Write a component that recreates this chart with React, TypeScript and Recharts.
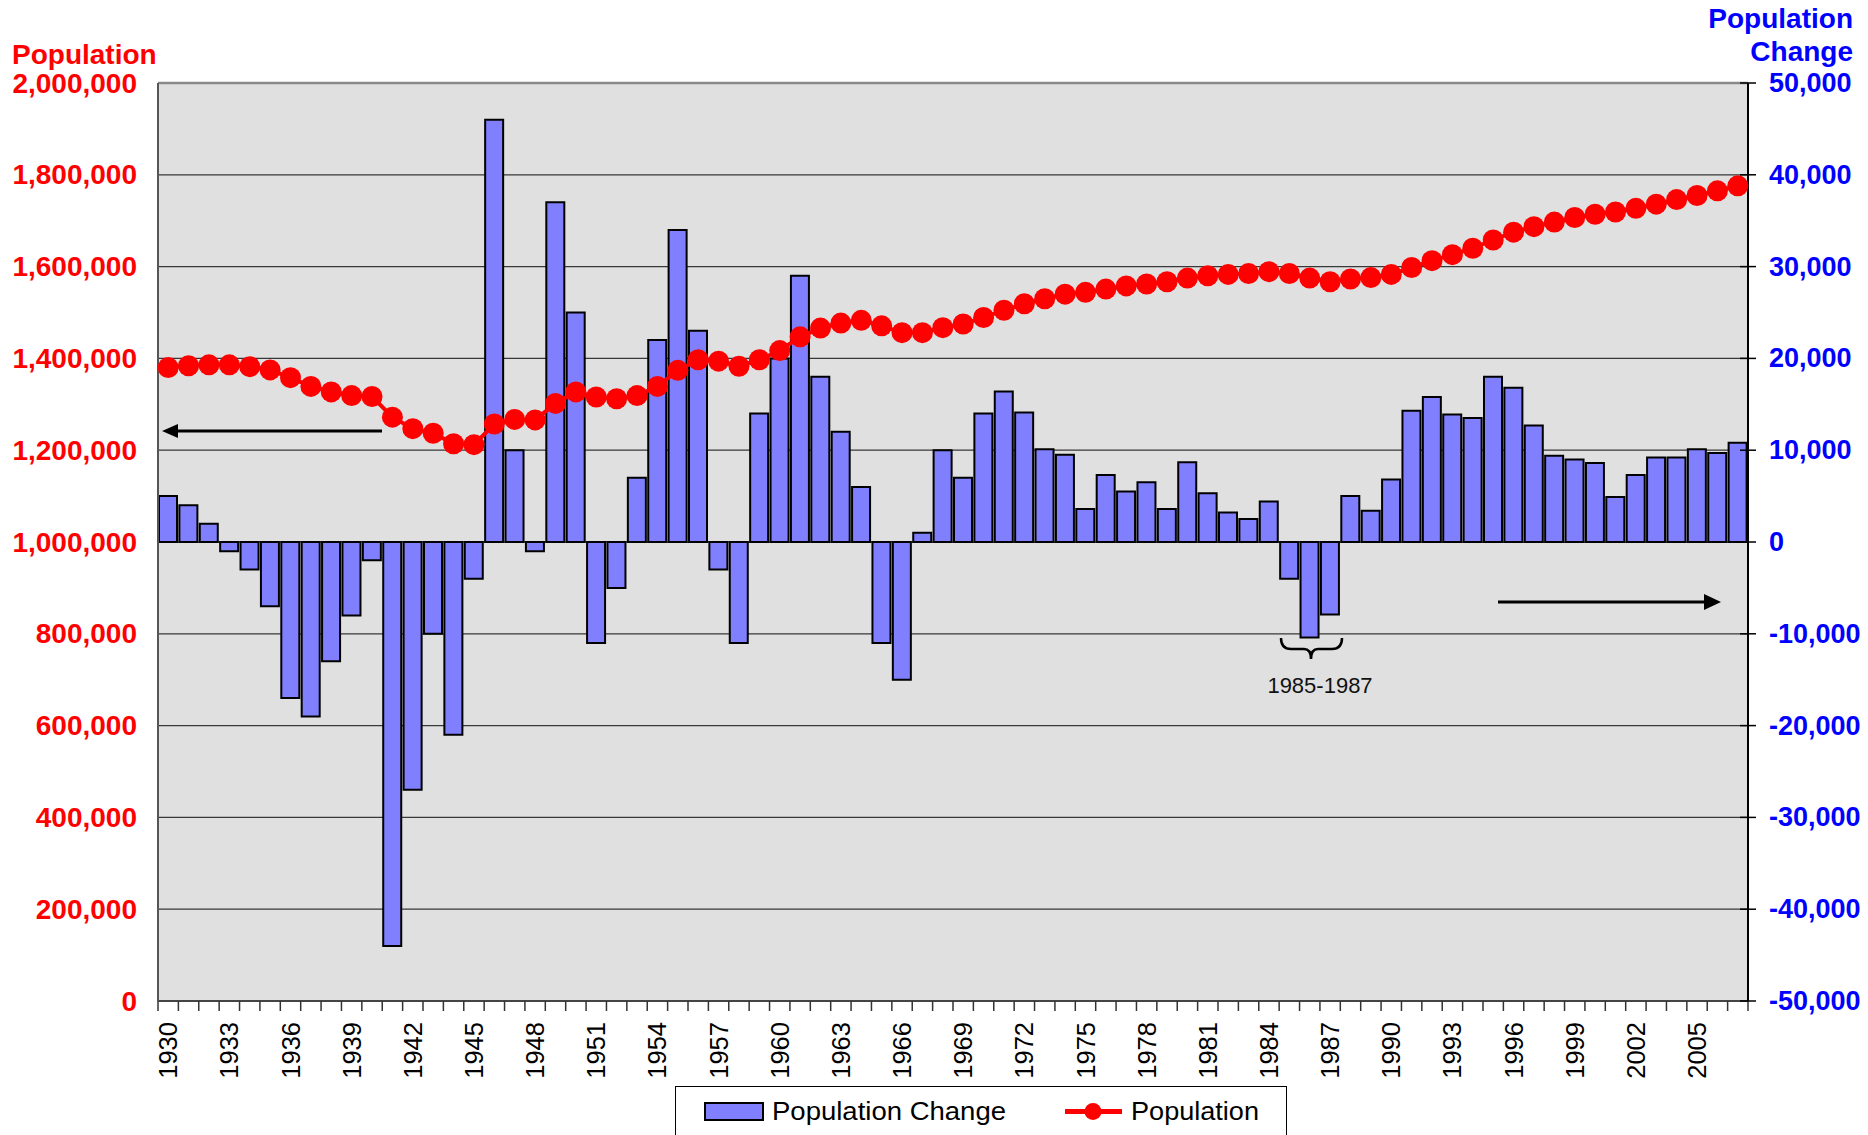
import { Bar, CartesianGrid, ComposedChart, Line, ReferenceLine, XAxis, YAxis } from 'recharts';

const years = [
  '1930', '1931', '1932', '1933', '1934', '1935', '1936', '1937', '1938', '1939',
  '1940', '1941', '1942', '1943', '1944', '1945', '1946', '1947', '1948', '1949',
  '1950', '1951', '1952', '1953', '1954', '1955', '1956', '1957', '1958', '1959',
  '1960', '1961', '1962', '1963', '1964', '1965', '1966', '1967', '1968', '1969',
  '1970', '1971', '1972', '1973', '1974', '1975', '1976', '1977', '1978', '1979',
  '1980', '1981', '1982', '1983', '1984', '1985', '1986', '1987', '1988', '1989',
  '1990', '1991', '1992', '1993', '1994', '1995', '1996', '1997', '1998', '1999',
  '2000', '2001', '2002', '2003', '2004', '2005', '2006', '2007',
];

// yearly change
const populationChange = [
  5000, 4000, 2000, -1000, -3000, -7000, -17000, -19000, -13000, -8000,
  -2000, -44000, -27000, -10000, -21000, -4000, 46000, 10000, -1000, 37000,
  25000, -11000, -5000, 7000, 22000, 34000, 23000, -3000, -11000, 14000,
  20000, 29000, 18000, 12000, 6000, -11000, -15000, 1000, 10000, 7000,
  14000, 16400, 14100, 10100, 9500, 3600, 7300, 5500, 6500, 3600,
  8700, 5300, 3200, 2500, 4400, -4000, -10400, -7900, 5000, 3400,
  6800, 14300, 15800, 13900, 13500, 18000, 16800, 12700, 9400, 9000,
  8600, 4900, 7300, 9200, 9200, 10100, 9700, 10800,
];

// total population
const population = [
  1380000, 1384000, 1386000, 1386000, 1382000, 1375000, 1358000, 1339000, 1327000, 1319000,
  1317000, 1272000, 1247000, 1237000, 1214000, 1212000, 1257000, 1267000, 1266000, 1302000,
  1327000, 1316000, 1312000, 1319000, 1339000, 1374000, 1397000, 1394000, 1383000, 1397000,
  1417000, 1447000, 1466000, 1477000, 1483000, 1471000, 1456000, 1456000, 1467000, 1475000,
  1489000, 1505000, 1519000, 1530000, 1540000, 1544000, 1551000, 1558000, 1562000, 1567000,
  1575000, 1580000, 1583000, 1585000, 1589000, 1585000, 1575000, 1567000, 1573000, 1576000,
  1583000, 1598000, 1613000, 1626000, 1640000, 1658000, 1675000, 1687000, 1697000, 1707000,
  1714000, 1719000, 1727000, 1736000, 1746000, 1755000, 1765000, 1776000,
];

const leftTicks = [0, 200000, 400000, 600000, 800000, 1000000, 1200000, 1400000, 1600000, 1800000, 2000000];
const rightTicks = [-50000, -40000, -30000, -20000, -10000, 0, 10000, 20000, 30000, 40000, 50000];

const data = years.map((year, i) => ({ year, change: populationChange[i], population: population[i] }));

const W = 1868;
const H = 1135;
const LEFT_W = 158;
const RIGHT_W = 120;
const TOP = 83;
const X_H = 134;
const PLOT_L = LEFT_W;
const PLOT_R = W - RIGHT_W;
const PLOT_B = H - X_H;
const BAND = (PLOT_R - PLOT_L) / years.length;

const FONT = '"Liberation Sans", Arial, sans-serif';
const fmt = (v: number) => v.toLocaleString('en-US');

function XTick(props: any) {
  const { x, payload } = props;
  const i = props.index ?? payload.index;
  const half = BAND / 2;
  const ty = PLOT_B + 21;
  return (
    <g>
      <line x1={x - half} x2={x - half} y1={PLOT_B} y2={PLOT_B + 10} stroke="#333" strokeWidth={1.5} />
      {i === years.length - 1 && (
        <line x1={x + half} x2={x + half} y1={PLOT_B} y2={PLOT_B + 10} stroke="#333" strokeWidth={1.5} />
      )}
      {i % 3 === 0 && (
        <text
          x={x}
          y={ty}
          transform={`rotate(-90, ${x}, ${ty})`}
          textAnchor="end"
          dominantBaseline="central"
          fontSize={25.5}
          fontFamily={FONT}
          fill="#000"
        >
          {payload.value}
        </text>
      )}
    </g>
  );
}

function LeftTick({ y, payload }: any) {
  return (
    <text x={137} y={y} textAnchor="end" dominantBaseline="central" fill="#ff0000" fontWeight="bold" fontSize={28} fontFamily={FONT}>
      {fmt(payload.value)}
    </text>
  );
}

function RightTick({ y, payload }: any) {
  return (
    <g>
      <line x1={PLOT_R - 8} x2={PLOT_R + 8} y1={y} y2={y} stroke="#000" strokeWidth={1.5} />
      <text x={1769} y={y} textAnchor="start" dominantBaseline="central" fill="#0000ff" fontWeight="bold" fontSize={27} fontFamily={FONT}>
        {fmt(payload.value)}
      </text>
    </g>
  );
}

export default function App() {
  return (
    <div style={{ position: 'absolute', left: 0, top: 0, width: W, height: H, background: '#fff', overflow: 'hidden' }}>
      <ComposedChart width={W} height={H} data={data} margin={{ top: TOP, right: 0, bottom: 0, left: 0 }}>
        <CartesianGrid yAxisId="pop" vertical={false} fill="#e0e0e0" stroke="#383838" strokeWidth={1.3} />
        <XAxis
          dataKey="year"
          height={X_H}
          interval={0}
          tick={<XTick />}
          tickLine={false}
          axisLine={{ stroke: '#444', strokeWidth: 2 }}
        />
        <YAxis
          yAxisId="pop"
          orientation="left"
          width={LEFT_W}
          domain={[0, 2000000]}
          ticks={leftTicks}
          interval={0}
          tick={<LeftTick />}
          tickLine={false}
          axisLine={{ stroke: '#555', strokeWidth: 2 }}
        />
        <YAxis
          yAxisId="chg"
          orientation="right"
          width={RIGHT_W}
          domain={[-50000, 50000]}
          ticks={rightTicks}
          interval={0}
          tick={<RightTick />}
          tickLine={false}
          axisLine={{ stroke: '#000', strokeWidth: 2 }}
        />
        <ReferenceLine yAxisId="pop" y={2000000} stroke="#8a8a8a" strokeWidth={2.5} />
        <Bar
          yAxisId="chg"
          dataKey="change"
          fill="#8080ff"
          stroke="#000"
          strokeWidth={2}
          barSize={18}
          isAnimationActive={false}
        />
        <Line
          yAxisId="pop"
          dataKey="population"
          stroke="#ff0000"
          strokeWidth={4}
          dot={{ r: 10.5, fill: '#ff0000', stroke: 'none', strokeWidth: 0 }}
          activeDot={false}
          isAnimationActive={false}
        />
      </ComposedChart>

      {/* titles and annotations */}
      <svg width={W} height={H} style={{ position: 'absolute', left: 0, top: 0, pointerEvents: 'none' }}>
        <text x={12} y={64} fill="#ff0000" fontWeight="bold" fontSize={28} fontFamily={FONT}>Population</text>
        <text x={1853} y={28} textAnchor="end" fill="#0000ff" fontWeight="bold" fontSize={28} fontFamily={FONT}>Population</text>
        <text x={1853} y={61} textAnchor="end" fill="#0000ff" fontWeight="bold" fontSize={28} fontFamily={FONT}>Change</text>

        <line x1={382} y1={431} x2={176} y2={431} stroke="#000" strokeWidth={3} />
        <polygon points="162,431 178,424 178,438" fill="#000" />

        <line x1={1498} y1={602} x2={1706} y2={602} stroke="#000" strokeWidth={3} />
        <polygon points="1721,602 1704,594 1704,610" fill="#000" />

        <path
          d="M1281,638 Q1281,649 1291,649 L1304,649 Q1311,649 1311,659 Q1311,649 1318,649 L1332,649 Q1342,649 1342,638"
          fill="none"
          stroke="#000"
          strokeWidth={2.5}
        />
        <text x={1320} y={693} textAnchor="middle" fontSize={22} fontFamily={FONT} fill="#111">1985-1987</text>
      </svg>

      {/* legend */}
      <div
        style={{
          position: 'absolute',
          left: 675,
          top: 1086,
          width: 612,
          height: 70,
          border: '1.5px solid #000',
          background: '#fff',
          boxSizing: 'border-box',
        }}
      >
        <svg width={612} height={70} style={{ position: 'absolute', left: -1.5, top: -1.5 }}>
          <rect x={30} y={17} width={58} height={17} fill="#8080ff" stroke="#000" strokeWidth={2} />
          <text x={97} y={33.5} fontSize={25} fontFamily={FONT} fill="#000" textLength={234} lengthAdjust="spacingAndGlyphs">
            Population Change
          </text>
          <line x1={390} x2={447} y1={25.5} y2={25.5} stroke="#ff0000" strokeWidth={5} />
          <circle cx={418} cy={25.5} r={8.5} fill="#ff0000" />
          <text x={456} y={33.5} fontSize={25} fontFamily={FONT} fill="#000" textLength={128} lengthAdjust="spacingAndGlyphs">
            Population
          </text>
        </svg>
      </div>
    </div>
  );
}
